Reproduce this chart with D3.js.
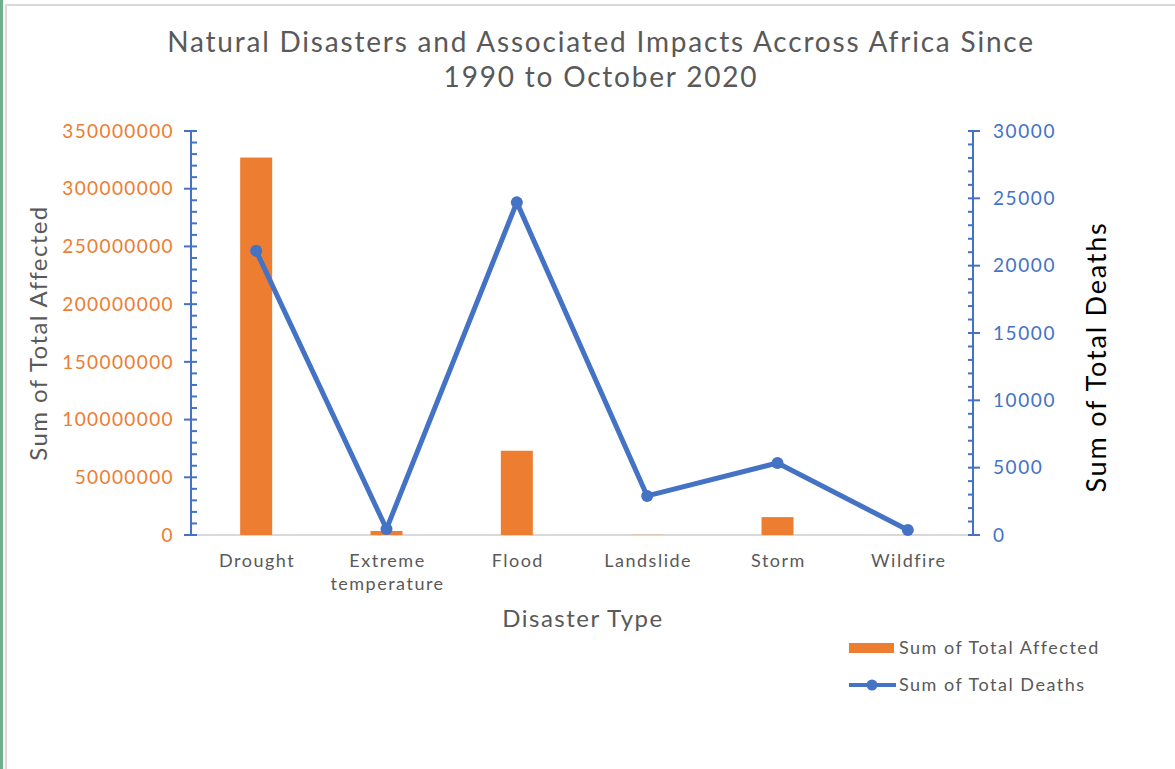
<!DOCTYPE html>
<html><head><meta charset="utf-8">
<script src="https://cdn.jsdelivr.net/npm/d3@7"></script>
<style>
body{margin:0;background:#fff;}
svg{display:block;font-family:"Lato","Open Sans",sans-serif;}
</style></head>
<body><svg id="c" width="1175" height="769"></svg>
<script>
const categories = ["Drought", "Extreme temperature", "Flood", "Landslide", "Storm", "Wildfire"];
const totalAffected = [327000000, 3500000, 73000000, 150000, 15500000, 50000];
const totalDeaths = [21100, 450, 24700, 2900, 5350, 370];
const leftTicks = [0, 50000000, 100000000, 150000000, 200000000, 250000000, 300000000, 350000000];
const rightTicks = [0, 5000, 10000, 15000, 20000, 25000, 30000];

const svg = d3.select("#c");
const orange = "#ED7D31", blue = "#4472C4", grey = "#595959";
const L = 191, R = 973, T = 131, B = 535;

// frame
svg.append("rect").attr("x",0).attr("y",0).attr("width",3).attr("height",769).attr("fill","#6fb08c");
svg.append("rect").attr("x",5).attr("y",4).attr("width",2).attr("height",765).attr("fill","#d9d9d9");
svg.append("rect").attr("x",5).attr("y",4).attr("width",1170).attr("height",2).attr("fill","#d9d9d9");

const x = d3.scaleBand().domain(categories).range([L, R]);
const yL = d3.scaleLinear().domain([0, 350000000]).range([B, T]);
const yR = d3.scaleLinear().domain([0, 30000]).range([B, T]);

// title
const title = svg.append("text").attr("text-anchor","middle").attr("fill",grey)
  .style("font-size","28px").style("letter-spacing","1.8px");
title.append("tspan").attr("x",601).attr("y",52).text("Natural Disasters and Associated Impacts Accross Africa Since");
title.append("tspan").attr("x",601).attr("y",87).text("1990 to October 2020");

// x axis line
svg.append("line").attr("x1",L).attr("x2",R).attr("y1",B).attr("y2",B).attr("stroke","#d9d9d9").attr("stroke-width",2);

// bars
const bw = 32;
svg.selectAll("rect.bar").data(categories).join("rect").attr("class","bar")
  .attr("x", d => x(d) + x.bandwidth()/2 - bw/2)
  .attr("width", bw)
  .attr("y", (d,i) => yL(totalAffected[i]))
  .attr("height", (d,i) => B - yL(totalAffected[i]))
  .attr("fill", orange);

// left axis
const gl = svg.append("g");
gl.append("line").attr("x1",L).attr("x2",L).attr("y1",T).attr("y2",B).attr("stroke",blue).attr("stroke-width",2);
d3.range(0, 350000001, 10000000).forEach(v => {
  const major = v % 50000000 === 0;
  gl.append("line").attr("x1", major ? L-7 : L).attr("x2", L+6).attr("y1", yL(v)).attr("y2", yL(v)).attr("stroke",blue).attr("stroke-width",2);
});
gl.selectAll("text").data(leftTicks).join("text")
  .attr("x", 174).attr("y", d => yL(d)).attr("dy","0.35em").attr("text-anchor","end")
  .attr("fill", orange).style("font-size","19px").style("letter-spacing","1.4px").text(d => d3.format("d")(d));

// right axis
const gr = svg.append("g");
gr.append("line").attr("x1",R).attr("x2",R).attr("y1",T).attr("y2",B).attr("stroke",blue).attr("stroke-width",2);
d3.range(0, 30001, 1000).forEach(v => {
  const major = v % 5000 === 0;
  gr.append("line").attr("x1", R-5).attr("x2", major ? R+7 : R).attr("y1", yR(v)).attr("y2", yR(v)).attr("stroke",blue).attr("stroke-width",2);
});
gr.selectAll("text").data(rightTicks).join("text")
  .attr("x", 993).attr("y", d => yR(d)).attr("dy","0.35em").attr("text-anchor","start")
  .attr("fill", blue).style("font-size","19px").style("letter-spacing","1.6px").text(d => d);

// category labels
const cl = svg.selectAll("text.cat").data(categories).join("text").attr("class","cat")
  .attr("text-anchor","middle").attr("fill",grey).style("font-size","18px").style("letter-spacing","1.5px");
cl.each(function(d){
  const t = d3.select(this);
  const words = d === "Extreme temperature" ? ["Extreme","temperature"] : [d];
  words.forEach((w,i) => t.append("tspan").attr("x", x(d)+x.bandwidth()/2 + 1).attr("y", 567 + i*23).text(w));
});

// line series
const line = d3.line().x((d,i) => x(categories[i]) + x.bandwidth()/2).y(d => yR(d));
svg.append("path").datum(totalDeaths).attr("d", line).attr("fill","none").attr("stroke",blue).attr("stroke-width",5).attr("stroke-linejoin","round");
svg.selectAll("circle.pt").data(totalDeaths).join("circle").attr("class","pt")
  .attr("cx",(d,i)=>x(categories[i])+x.bandwidth()/2).attr("cy",d=>yR(d)).attr("r",6).attr("fill",blue);

// axis titles
svg.append("text").attr("transform","translate(47,333) rotate(-90)").attr("text-anchor","middle")
  .attr("fill",grey).style("font-size","24px").style("letter-spacing","1.4px").text("Sum of Total Affected");
svg.append("text").attr("transform","translate(1106,357) rotate(-90)").attr("text-anchor","middle")
  .attr("fill","#000").style("font-size","27px").style("letter-spacing","1.8px").text("Sum of Total Deaths");
svg.append("text").attr("x",583).attr("y",627).attr("text-anchor","middle")
  .attr("fill",grey).style("font-size","24px").style("letter-spacing","1.5px").text("Disaster Type");

// legend
svg.append("rect").attr("x",849).attr("y",643).attr("width",45).attr("height",10).attr("fill",orange);
svg.append("text").attr("x",899).attr("y",648).attr("dy","0.35em").attr("fill",grey).style("font-size","18px").style("letter-spacing","1.5px").text("Sum of Total Affected");
svg.append("line").attr("x1",849).attr("x2",896).attr("y1",685).attr("y2",685).attr("stroke",blue).attr("stroke-width",4);
svg.append("circle").attr("cx",872).attr("cy",685).attr("r",5.5).attr("fill",blue);
svg.append("text").attr("x",899).attr("y",685).attr("dy","0.35em").attr("fill",grey).style("font-size","18px").style("letter-spacing","1.5px").text("Sum of Total Deaths");
</script></body></html>
